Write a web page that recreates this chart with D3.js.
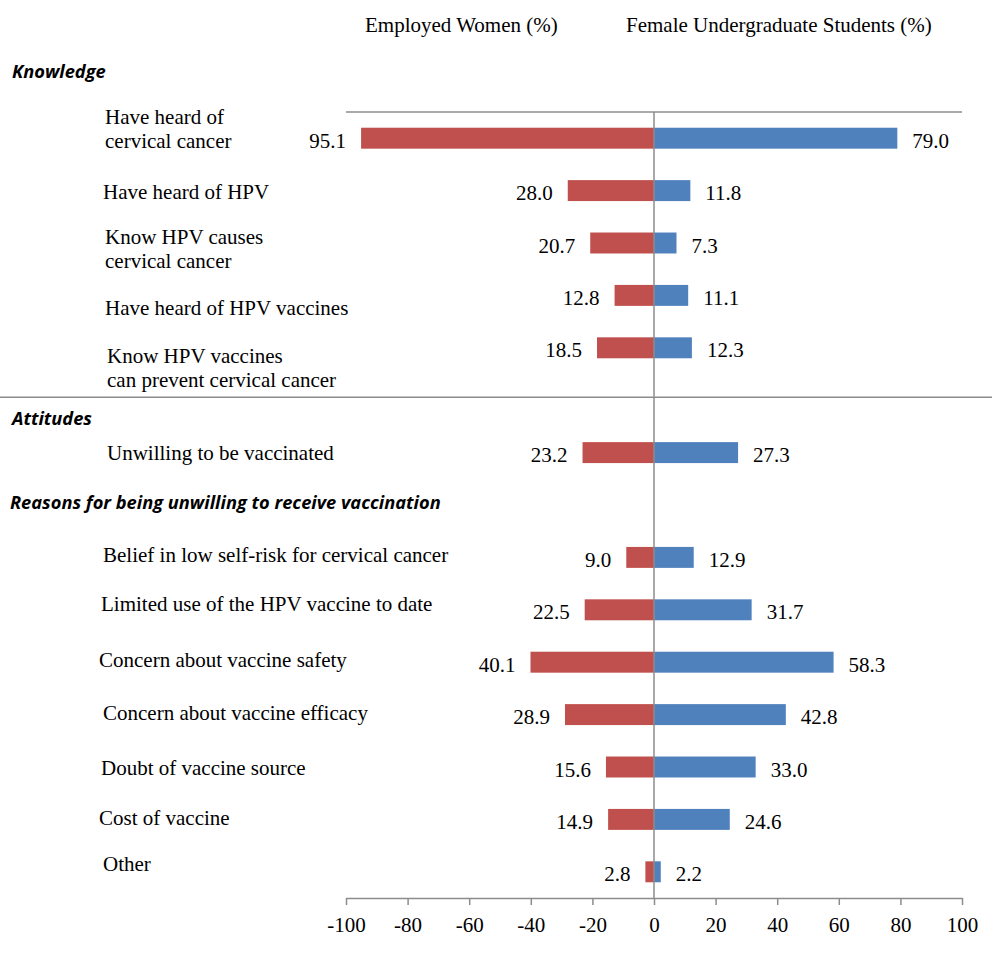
<!DOCTYPE html>
<html>
<head>
<meta charset="utf-8">
<script src="https://cdn.jsdelivr.net/npm/d3@7"></script>
<style>
  html, body { margin: 0; padding: 0; background: #fff; }
  svg { display: block; }
</style>
</head>
<body>
<svg id="chart" width="994" height="953"></svg>
<script>
// ---------------- DATA ----------------
const sections = ["Knowledge", "Attitudes", "Reasons for being unwilling to receive vaccination"];
const categories = [
  "Have heard of\ncervical cancer",
  "Have heard of HPV",
  "Know HPV causes\ncervical cancer",
  "Have heard of HPV vaccines",
  "Know HPV vaccines\ncan prevent cervical cancer",
  "Unwilling to be vaccinated",
  "Belief in low self-risk for cervical cancer",
  "Limited use of the HPV vaccine to date",
  "Concern about vaccine safety",
  "Concern about vaccine efficacy",
  "Doubt of vaccine source",
  "Cost of vaccine",
  "Other"
];
const categorySection = [0, 0, 0, 0, 0, 1, 2, 2, 2, 2, 2, 2, 2];
const employedWomen = [95.1, 28.0, 20.7, 12.8, 18.5, 23.2, 9.0, 22.5, 40.1, 28.9, 15.6, 14.9, 2.8];
const femaleStudents = [79.0, 11.8, 7.3, 11.1, 12.3, 27.3, 12.9, 31.7, 58.3, 42.8, 33.0, 24.6, 2.2];
const seriesNames = ["Employed Women (%)", "Female Undergraduate Students (%)"];
const tickValues = [-100, -80, -60, -40, -20, 0, 20, 40, 60, 80, 100];

// ---------------- LAYOUT (not data) ----------------
const labelDx = [105, 103, 105, 105, 107, 107, 103, 101, 99, 103, 101, 99, 103];
const labelDy = [-14, 8, 1, 20, 15, 7, 5, 1, 5, 5, 8, 6, -1];
const RED = "#C0504D", BLUE = "#4F81BD", GRID = "#8c8c8c";
const SERIF = "'Liberation Serif'";
const SANS = "'Open Sans'";

const svg = d3.select("#chart");
const serif = sel => sel.style("font-family", SERIF).style("font-size", "21px").attr("fill", "#000");

// band keys: items, with a gap slot between sections
const keys = [];
categories.forEach((c, i) => {
  if (i > 0 && categorySection[i] !== categorySection[i - 1]) keys.push("__gap" + categorySection[i]);
  keys.push(c);
});

const x = d3.scaleLinear().domain([-100, 100]).range([346, 962]);
const y = d3.scaleBand().domain(keys).range([112, 898]).paddingInner(0.6).paddingOuter(0.3);
const yc = k => y(k) + y.bandwidth() / 2;

// top line of plot area
svg.append("line").attr("x1", x(-100)).attr("x2", x(100)).attr("y1", 112).attr("y2", 112)
  .attr("stroke", GRID).attr("stroke-width", 1.5);

// section separator line (between Knowledge and Attitudes)
const gap1 = y("__gap1") + y.bandwidth() / 2 - 3;
svg.append("line").attr("x1", 0).attr("x2", 992).attr("y1", gap1).attr("y2", gap1)
  .attr("stroke", GRID).attr("stroke-width", 1.5);

// bars
const rows = categories.map((c, i) => ({ c, i, e: employedWomen[i], s: femaleStudents[i] }));
svg.append("g").selectAll("rect").data(rows).join("rect")
  .attr("x", d => x(-d.e)).attr("width", d => x(0) - x(-d.e))
  .attr("y", d => y(d.c)).attr("height", y.bandwidth()).attr("fill", RED);
svg.append("g").selectAll("rect").data(rows).join("rect")
  .attr("x", x(0)).attr("width", d => x(d.s) - x(0))
  .attr("y", d => y(d.c)).attr("height", y.bandwidth()).attr("fill", BLUE);

// value labels
svg.append("g").selectAll("text").data(rows).join("text").call(serif)
  .attr("text-anchor", "end").attr("x", d => x(-d.e) - 15).attr("y", d => yc(d.c) + 9.5)
  .text(d => d.e.toFixed(1));
svg.append("g").selectAll("text").data(rows).join("text").call(serif)
  .attr("x", d => x(d.s) + 15).attr("y", d => yc(d.c) + 9.5)
  .text(d => d.s.toFixed(1));

// vertical zero line
svg.append("line").attr("x1", x(0)).attr("x2", x(0)).attr("y1", 112).attr("y2", 898)
  .attr("stroke", GRID).attr("stroke-width", 1.5);

// x axis
const axis = svg.append("g").attr("transform", "translate(0,898)")
  .call(d3.axisBottom(x).tickValues(tickValues).tickSize(7).tickSizeOuter(0).tickPadding(12).tickFormat(d => String(d)));
axis.select(".domain").attr("stroke", GRID).attr("stroke-width", 1.5);
axis.selectAll(".tick line").attr("stroke", GRID).attr("stroke-width", 1.5);
axis.selectAll(".tick text").call(serif);

// category labels
const lab = svg.append("g").selectAll("text").data(rows).join("text").call(serif)
  .attr("x", d => labelDx[d.i]).attr("y", d => yc(d.c) + labelDy[d.i]);
lab.each(function (d) {
  const t = d3.select(this);
  d.c.split("\n").forEach((line, j) => {
    t.append("tspan").attr("x", labelDx[d.i]).attr("dy", j === 0 ? 0 : 24).text(line);
  });
});

// section headers (bold italic sans), size fitted so the long header spans ~431px
const sectionY = [78, 425, 509];
const sectionX = [12, 12, 10];
const sect = svg.append("g").selectAll("text").data(sections).join("text")
  .style("font-family", SANS).style("font-weight", 700).style("font-style", "italic")
  .style("font-size", "18px").attr("fill", "#000")
  .attr("x", (d, i) => sectionX[i]).attr("y", (d, i) => sectionY[i]).text(d => d);
const longW = sect.nodes()[2].getComputedTextLength();
if (longW > 0) sect.style("font-size", (18 * 431 / longW).toFixed(2) + "px");

// series titles
svg.append("text").call(serif).attr("x", 365).attr("y", 32).text(seriesNames[0]);
svg.append("text").call(serif).attr("x", 626).attr("y", 32).text(seriesNames[1]);
</script>
</body>
</html>
